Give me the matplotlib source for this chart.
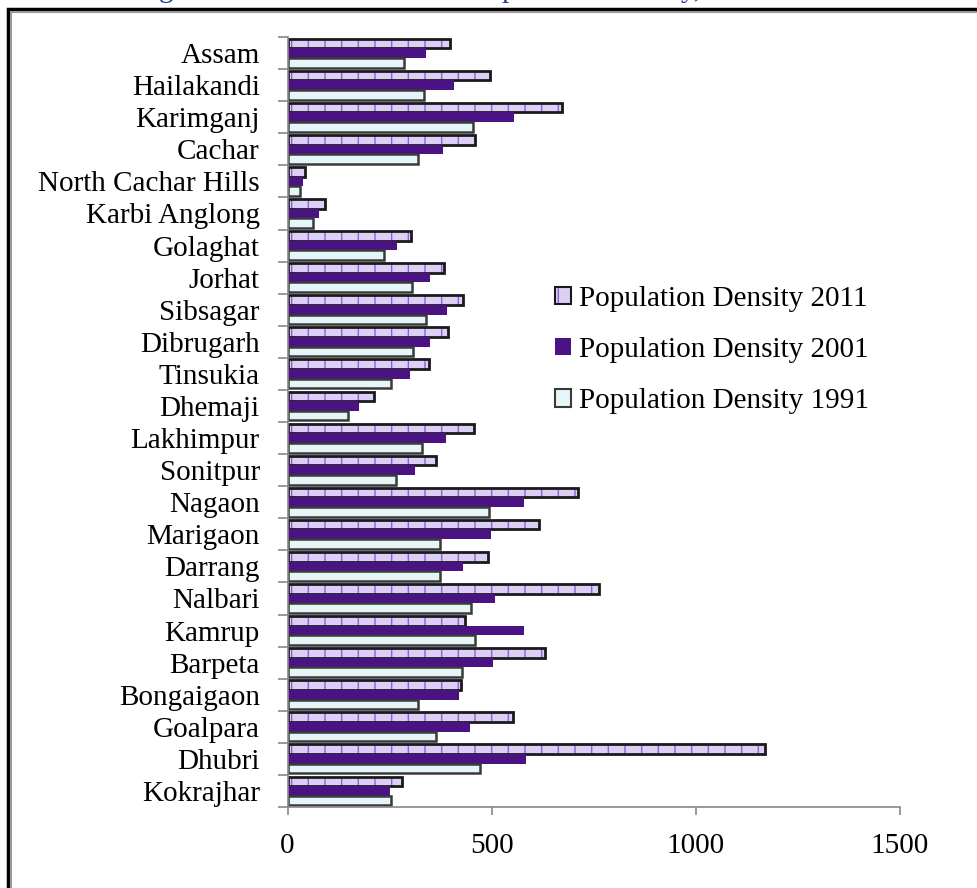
import numpy as np
import matplotlib.pyplot as plt
from matplotlib.patches import Patch, Rectangle
from matplotlib.legend_handler import HandlerTuple

plt.rcParams['font.family'] = ['Liberation Serif', 'DejaVu Serif']
plt.rcParams['hatch.linewidth'] = 1.0

districts = ['Assam', 'Hailakandi', 'Karimganj', 'Cachar', 'North Cachar Hills',
             'Karbi Anglong', 'Golaghat', 'Jorhat', 'Sibsagar', 'Dibrugarh',
             'Tinsukia', 'Dhemaji', 'Lakhimpur', 'Sonitpur', 'Nagaon', 'Marigaon',
             'Darrang', 'Nalbari', 'Kamrup', 'Barpeta', 'Bongaigaon', 'Goalpara',
             'Dhubri', 'Kokrajhar']
dens_2011 = [397, 497, 673, 459, 44, 93, 302, 383, 431, 393, 347, 213, 458, 365,
             711, 617, 491, 763, 436, 632, 425, 553, 1171, 280]
dens_2001 = [340, 409, 555, 381, 38, 78, 269, 348, 392, 350, 300, 174, 388, 312,
             580, 499, 429, 508, 580, 504, 420, 448, 584, 252]
dens_1991 = [286, 335, 454, 320, 30, 62, 236, 305, 339, 307, 254, 147, 329, 266,
             493, 374, 374, 449, 459, 427, 319, 364, 472, 254]

lav = '#DCCFF5'
lav_hatch = '#8B63D9'
purple = '#4A1283'
pale = '#E6F5F7'

fig = plt.figure(figsize=(9.78, 8.88), dpi=100)
ax = fig.add_axes([0.294, 0.0912, 0.6258, 0.8671])

y = np.arange(len(districts))
h = 0.3
ax.barh(y - h, dens_2011, height=h, color=lav, hatch='|', edgecolor=lav_hatch, linewidth=0)
ax.barh(y - h, dens_2011, height=h, fill=False, edgecolor='#1a1a1a', linewidth=2)
ax.barh(y, dens_2001, height=h, color=purple, linewidth=0)
ax.barh(y + h, dens_1991, height=h, color=pale, edgecolor='#3a3a3a', linewidth=1.8)

ax.set_xlim(0, 1500)
ax.set_ylim(len(districts) - 0.5, -0.5)
ax.set_xticks([0, 500, 1000, 1500])
ax.set_yticks(y)
ax.set_yticklabels(districts)
ax.set_yticks(np.arange(-0.5, len(districts), 1), minor=True)
ax.tick_params(axis='y', which='major', length=0, pad=20, labelsize=21)
ax.tick_params(axis='y', which='minor', length=7, color='#888888', width=1.2)
ax.tick_params(axis='x', length=6, color='#888888', width=1.2, pad=13, labelsize=21)
for s in ['top', 'right']:
    ax.spines[s].set_visible(False)
for s in ['left', 'bottom']:
    ax.spines[s].set_color('#888888')
    ax.spines[s].set_linewidth(1.2)

# legend
h11 = (Patch(facecolor=lav, hatch='|', edgecolor=lav_hatch, linewidth=0),
       Patch(fill=False, edgecolor='#1a1a1a', linewidth=1.5))
h01 = Patch(facecolor=purple, linewidth=0)
h91 = Patch(facecolor=pale, edgecolor='#3a3a3a', linewidth=1.5)
ax.legend([h11, h01, h91],
          ['Population Density 2011', 'Population Density 2001', 'Population Density 1991'],
          handler_map={tuple: HandlerTuple(ndivide=1)},
          loc='upper left', bbox_to_anchor=(0.567, 0.678), bbox_transform=fig.transFigure,
          frameon=False, fontsize=21, labelspacing=0.86, handlelength=0.55,
          handleheight=0.55, handletextpad=0.3, borderpad=0, borderaxespad=0)

# outer frame of the chart area
fig.patches.append(Rectangle((8 / 978, -0.1), 1.2, 1.1 - 9 / 888, transform=fig.transFigure,
                             fill=False, edgecolor='black', linewidth=2.5))
fig.patches.append(Rectangle((11 / 978, -0.1), 1.2, 1.1 - 12 / 888, transform=fig.transFigure,
                             fill=False, edgecolor='#9a9a9a', linewidth=1.5))

fig.text(70 / 978, 1 + 3 / 888, 'Showing the Decadal Variation of Population Density, 1991-2011',
         color='#1F3A8A', fontsize=21, va='baseline', ha='left')

fig.savefig('out.png', dpi=100)
